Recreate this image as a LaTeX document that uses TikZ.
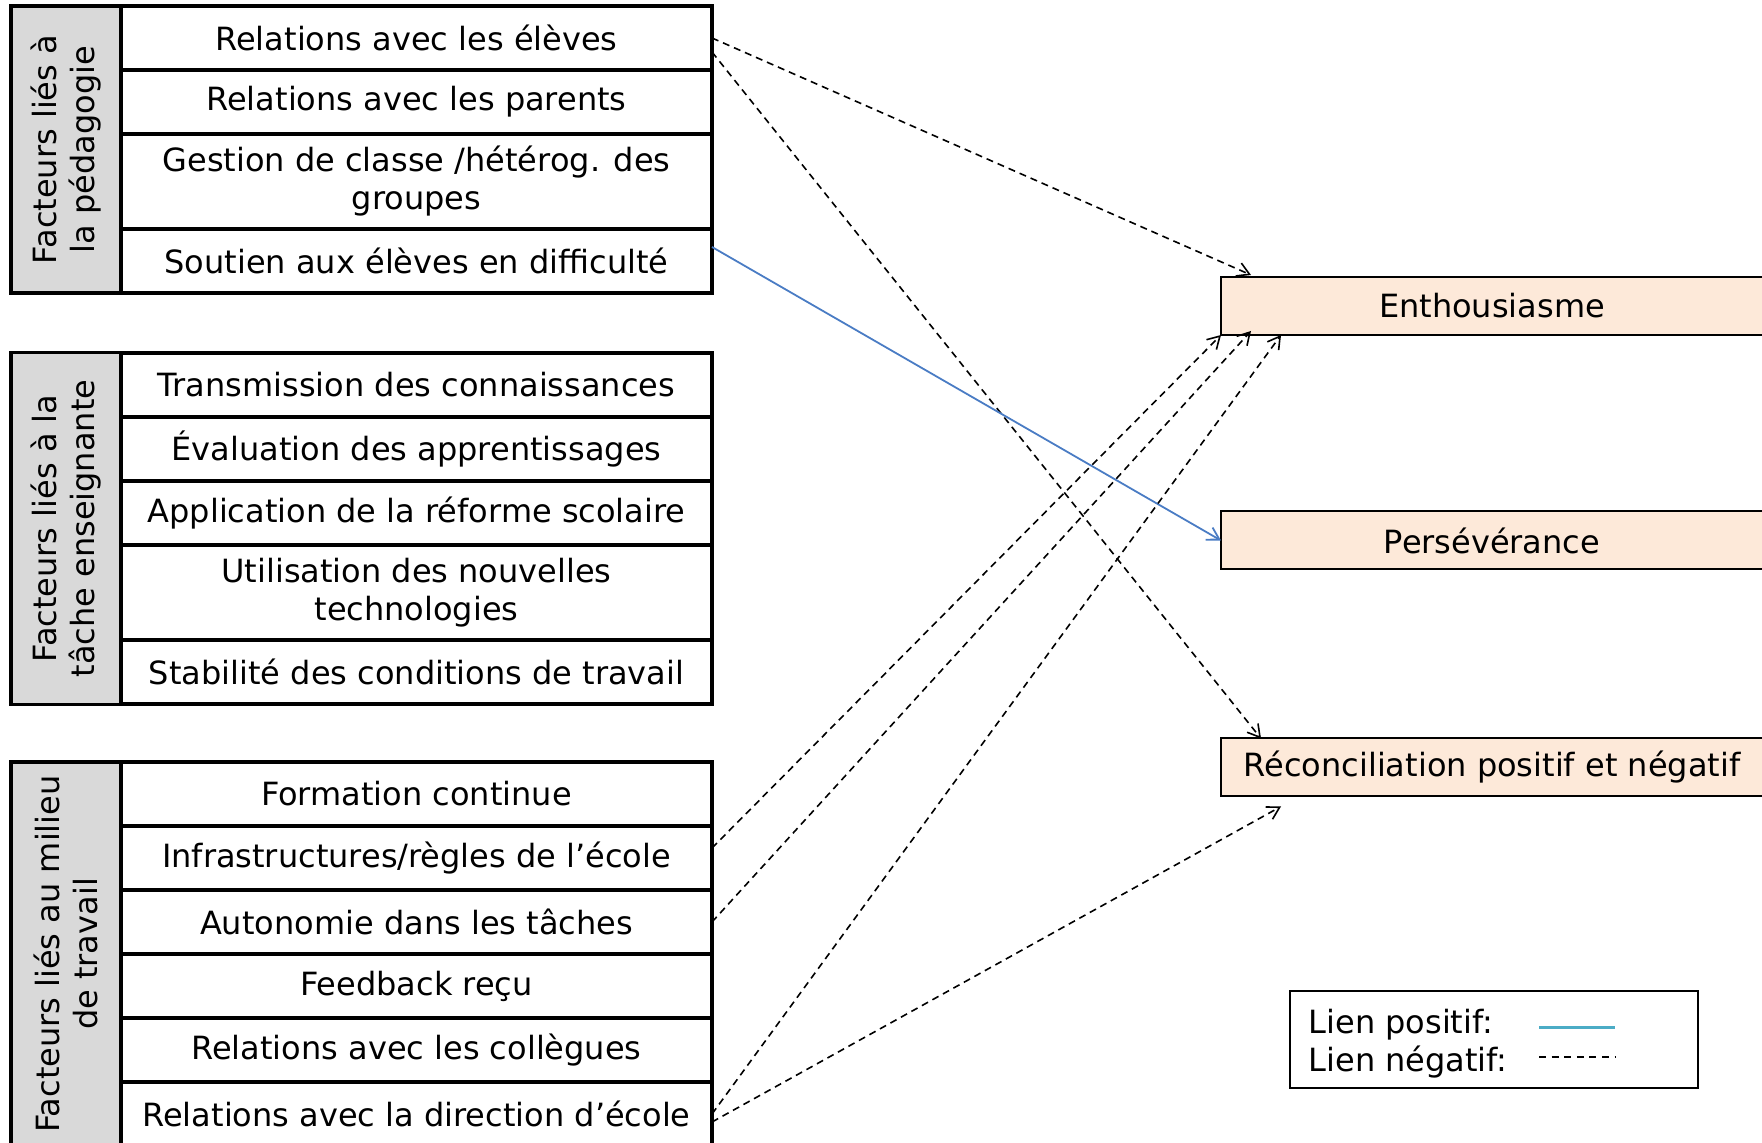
\documentclass[tikz,border=0pt]{standalone}
\usepackage{fontspec}
\setmainfont{DejaVu Sans}
\usetikzlibrary{positioning,calc,arrows.meta}

\definecolor{grisfacteur}{HTML}{D9D9D9}
\definecolor{peche}{HTML}{FDE9D9}
\definecolor{bleulien}{HTML}{4A7CC4}
\definecolor{turquoise}{HTML}{4BACC6}

\tikzset{
  facteur/.style={draw, line width=1.6pt, minimum width=295.5pt, minimum height=32pt,
    inner sep=0pt, outer sep=0pt, align=center},
  double/.style={minimum height=47.5pt},
  groupe/.style={draw, line width=1.6pt, fill=grisfacteur, rotate=90, minimum height=55pt,
    inner sep=0pt, outer sep=0pt, align=center},
  effet/.style={draw, line width=1pt, fill=peche, minimum width=271pt, minimum height=29pt,
    inner sep=0pt, outer sep=0pt},
  negatif/.style={dash pattern=on 3.5pt off 2.5pt, line width=0.8pt,
    -{Straight Barb[length=6pt,width=7pt]}},
  positif/.style={draw=bleulien, line width=0.9pt, -{Straight Barb[length=6pt,width=7pt]}}
}

\begin{document}
\begin{tikzpicture}[x=0.5pt,y=-0.5pt,font=\fontsize{16}{19}\selectfont]
\useasboundingbox (0,0) rectangle (1762,1143);

% facteurs lies a la pedagogie
\node[facteur] (p1) at (416.5,38) {Relations avec les élèves};
\node[facteur, below=0pt of p1] (p2) {Relations avec les parents};
\node[facteur, double, below=0pt of p2] (p3) {Gestion de classe /hétérog. des\\groupes};
\node[facteur, below=0pt of p3] (p4) {Soutien aux élèves en difficulté};
\node[groupe, minimum width=143.5pt] (g1) at ($(p1.north west)!0.5!(p4.south west)+(-55,0)$)
  {Facteurs liés à\\la pédagogie};

% facteurs lies a la tache enseignante
\node[facteur] (t1) at (416.5,385) {Transmission des connaissances};
\node[facteur, below=0pt of t1] (t2) {Évaluation des apprentissages};
\node[facteur, below=0pt of t2] (t3) {Application de la réforme scolaire};
\node[facteur, double, below=0pt of t3] (t4) {Utilisation des nouvelles\\technologies};
\node[facteur, below=0pt of t4] (t5) {Stabilité des conditions de travail};
\node[groupe, minimum width=176pt] (g2) at ($(t1.north west)!0.5!(t5.south west)+(-55,0)$)
  {Facteurs liés à la\\tâche enseignante};

% facteurs lies au milieu de travail
\node[facteur] (m1) at (416.5,794) {Formation continue};
\node[facteur, below=0pt of m1] (m2) {Infrastructures/règles de l’école};
\node[facteur, below=0pt of m2] (m3) {Autonomie dans les tâches};
\node[facteur, below=0pt of m3] (m4) {Feedback reçu};
\node[facteur, below=0pt of m4] (m5) {Relations avec les collègues};
\node[facteur, below=0pt of m5] (m6) {Relations avec la direction d’école};
\node[groupe, minimum width=192pt] (g3) at ($(m1.north west)!0.5!(m6.south west)+(-55,0)$)
  {Facteurs liés au milieu\\de travail};

% effets
\node[effet] (enth) at (1492,306) {Enthousiasme};
\node[effet] (pers) at (1492,540.5) {Persévérance};
\node[effet] (reco) at (1492,767.5) {Réconciliation positif et négatif};

% liens
\draw[negatif] (p1.east) -- ([xshift=15pt,yshift=1pt]enth.north west);
\draw[negatif] ([yshift=-7pt]p1.east) -- ([xshift=20pt]reco.north west);
\draw[positif] ([yshift=7pt]p4.east) -- (pers.west);
\draw[negatif] ([yshift=5pt]m2.east) -- (enth.south west);
\draw[negatif] (m3.east) -- ([xshift=15pt,yshift=2pt]enth.south west);
\draw[negatif] (m6.east) -- ([xshift=30pt]enth.south west);
\draw[negatif] ([yshift=-4pt]m6.east) -- ([xshift=30pt,yshift=-5pt]reco.south west);

% legende
\node[draw, line width=0.8pt, minimum width=204pt, minimum height=48.5pt, inner sep=0pt]
  (leg) at (1494,1039.5) {};
\node[anchor=west, align=left, inner sep=0pt] (legtxt) at ([xshift=9.5pt,yshift=-2pt]leg.west)
  {Lien positif:\\Lien négatif:};
\draw[turquoise, line width=1.5pt] ([xshift=22.5pt,yshift=6.25pt]leg.center)
  -- ([xshift=60.5pt,yshift=6.25pt]leg.center);
\draw[dash pattern=on 3.5pt off 2.8pt, line width=0.6pt] ([xshift=22.5pt,yshift=-8.75pt]leg.center)
  -- ([xshift=60.5pt,yshift=-8.75pt]leg.center);
\end{tikzpicture}
\end{document}
